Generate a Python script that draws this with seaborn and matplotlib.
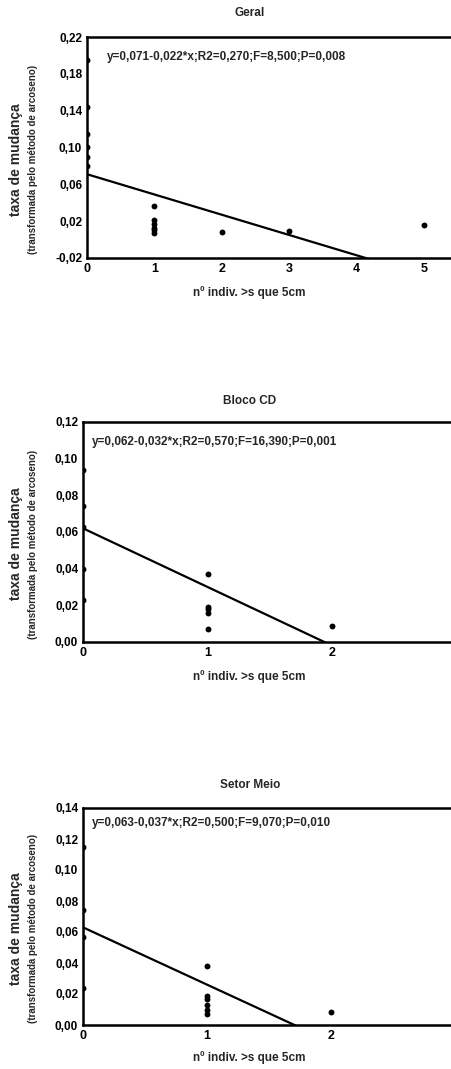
import matplotlib
matplotlib.use("Agg")
import matplotlib.pyplot as plt
import seaborn as sns
import numpy as np
import pandas as pd

# ---- data ----
titles = ["Geral", "Bloco CD", "Setor Meio"]
equations = [
    "y=0,071-0,022*x;R2=0,270;F=8,500;P=0,008",
    "y=0,062-0,032*x;R2=0,570;F=16,390;P=0,001",
    "y=0,063-0,037*x;R2=0,500;F=9,070;P=0,010",
]
intercepts = [0.071, 0.062, 0.063]
slopes = [-0.022, -0.032, -0.037]

geral_x = [0, 0, 0, 0, 0, 0, 1, 1, 1, 1, 1, 1, 2, 3, 5]
geral_y = [0.195, 0.144, 0.115, 0.101, 0.090, 0.080,
           0.037, 0.021, 0.017, 0.013, 0.010, 0.007, 0.008, 0.009, 0.016]

bloco_x = [0, 0, 0, 0, 0, 1, 1, 1, 1, 1, 2]
bloco_y = [0.094, 0.074, 0.063, 0.040, 0.023,
           0.037, 0.019, 0.018, 0.016, 0.007, 0.0085]

setor_x = [0, 0, 0, 0, 1, 1, 1, 1, 1, 1, 2]
setor_y = [0.115, 0.074, 0.057, 0.024,
           0.038, 0.019, 0.017, 0.013, 0.010, 0.007, 0.0086]

xs_list = [geral_x, bloco_x, setor_x]
ys_list = [geral_y, bloco_y, setor_y]

xticks_list = [[0, 1, 2, 3, 4, 5], [0, 1, 2], [0, 1, 2, 3]]
xlims = [(0, 5.47), (0, 2.99), (0, 2.99)]
yticks_list = [[-0.02, 0.02, 0.06, 0.10, 0.14, 0.18, 0.22],
               [0.00, 0.02, 0.04, 0.06, 0.08, 0.10, 0.12],
               [0.00, 0.02, 0.04, 0.06, 0.08, 0.10, 0.12, 0.14]]
ylims = [(-0.02, 0.22), (0.0, 0.12), (0.0, 0.14)]

xlabel = "nº indiv. >s que 5cm"
ylabel1 = "taxa de mudança"
ylabel2 = "(transformada pelo método de arcoseno)"

# ---- layout (pixels) ----
W, H = 451, 1069
panels_px = [  # left, top, bottom
    (87, 37, 258),
    (83, 422, 642),
    (83, 808, 1025),
]
title_y = [13, 401, 785]
eq_pos = [(107, 57), (92, 442), (92, 823)]
xlabel_y = [293, 677, 1058]

sns.set_theme(style="white")
plt.rcParams['font.family'] = ['Liberation Sans', 'DejaVu Sans']

fig = plt.figure(figsize=(W / 100, H / 100), dpi=100)
fig.patch.set_facecolor("white")

for i in range(3):
    left, top, bottom = panels_px[i]
    ax = fig.add_axes([left / W, 1 - bottom / H, (W - left) / W + 0.01, (bottom - top) / H])
    ax.set_facecolor("white")
    df = pd.DataFrame({"x": xs_list[i], "y": ys_list[i]})
    sns.scatterplot(data=df, x="x", y="y", ax=ax, color="black", s=18,
                    edgecolor="black", linewidth=0, zorder=3)
    xl = np.array([xlims[i][0], xlims[i][1]])
    line_df = pd.DataFrame({"x": xl, "y": intercepts[i] + slopes[i] * xl})
    sns.lineplot(data=line_df, x="x", y="y", ax=ax, color="black", linewidth=1.6, zorder=2)
    ax.set_xlim(*xlims[i])
    ax.set_ylim(*ylims[i])
    ax.set_xticks(xticks_list[i])
    ax.set_xticklabels([str(t) for t in xticks_list[i]], fontsize=9, fontweight="bold")
    ax.set_yticks(yticks_list[i])
    ax.set_yticklabels([f"{t:.2f}".replace(".", ",") for t in yticks_list[i]],
                       fontsize=8.5, fontweight="bold")
    ax.tick_params(axis="both", length=0, pad=3.5, colors="black")
    ax.set_xlabel("")
    ax.set_ylabel("")
    for s in ["left", "top", "bottom"]:
        ax.spines[s].set_visible(True)
        ax.spines[s].set_color("black")
        ax.spines[s].set_linewidth(1.8)
        ax.spines[s].set_zorder(4)
    ax.spines["right"].set_visible(False)
    ax.grid(False)

    fig.text(250 / W, 1 - title_y[i] / H, titles[i], ha="center", va="center",
             fontsize=8.5, fontweight="bold")
    fig.text(eq_pos[i][0] / W, 1 - eq_pos[i][1] / H, equations[i], ha="left", va="center",
             fontsize=8.5, fontweight="bold")
    fig.text(249 / W, 1 - xlabel_y[i] / H, xlabel, ha="center", va="center",
             fontsize=8.5, fontweight="bold")
    yc = (top + bottom) / 2 + 12
    fig.text(16 / W, 1 - yc / H, ylabel1, ha="center", va="center", rotation=90,
             fontsize=10, fontweight="bold")
    fig.text(33 / W, 1 - yc / H, ylabel2, ha="center", va="center", rotation=90,
             fontsize=7, fontweight="bold")

fig.savefig("out.png", dpi=100, facecolor="white")
